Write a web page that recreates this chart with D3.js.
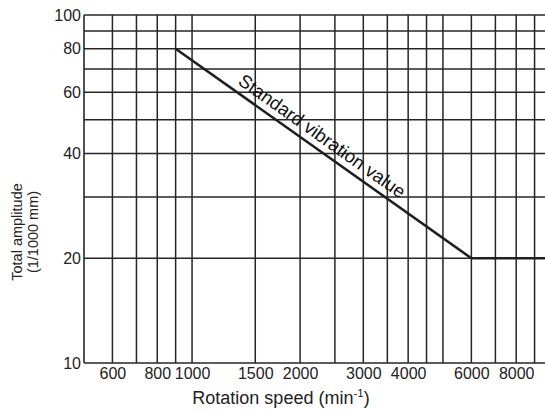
<!DOCTYPE html>
<html>
<head>
<meta charset="utf-8">
<script src="https://cdn.jsdelivr.net/npm/d3@7/dist/d3.min.js"></script>
<style>
  body { margin: 0; background: #fff; }
  svg { display: block; font-family: "Liberation Sans", Arial, sans-serif; }
</style>
</head>
<body>
<div id="chart"></div>
<script>
// Chart data
const xGrid = [600, 700, 800, 900, 1000, 1500, 2000, 2500, 3000, 3500, 4000, 4500, 5000, 6000, 7000, 8000, 9000];
const xTicks = [600, 800, 1000, 1500, 2000, 3000, 4000, 6000, 8000];
const yGrid = [10, 20, 30, 40, 50, 60, 70, 80, 90, 100];
const yTicks = [10, 20, 40, 60, 80, 100];
const standardSpeed = [900, 6000, 10000];
const standardAmp = [80, 20, 20];

const width = 545, height = 412;

const svg = d3.select("#chart").append("svg")
  .attr("width", width)
  .attr("height", height);

// log-log scales, right edge of the chart is cut off by the picture
const x = d3.scaleLog().domain([500, 10000]).range([84, 551]);
const y = d3.scaleLog().domain([10, 100]).range([363, 15]);

const gridColor = "#262626";

// vertical grid lines
svg.append("g")
  .selectAll("line")
  .data(xGrid)
  .join("line")
  .attr("x1", d => x(d)).attr("x2", d => x(d))
  .attr("y1", y(100)).attr("y2", y(10))
  .attr("stroke", gridColor)
  .attr("stroke-width", 1.5);

// horizontal grid lines
svg.append("g")
  .selectAll("line")
  .data(yGrid)
  .join("line")
  .attr("x1", x(500)).attr("x2", width)
  .attr("y1", d => y(d)).attr("y2", d => y(d))
  .attr("stroke", gridColor)
  .attr("stroke-width", 1.5);

// left border
svg.append("line")
  .attr("x1", x(500)).attr("x2", x(500))
  .attr("y1", y(100)).attr("y2", y(10))
  .attr("stroke", gridColor)
  .attr("stroke-width", 1.6);

// x axis labels
const xAxis = svg.append("g")
  .attr("transform", `translate(0,${y(10)})`)
  .call(d3.axisBottom(x).tickValues(xTicks).tickSize(0).tickPadding(5).tickFormat(d3.format("d")));
xAxis.select(".domain").remove();
xAxis.selectAll("text")
  .attr("fill", "#222")
  .style("font-size", "16px")
  .attr("dy", "0.71em");

// y axis labels
const yAxis = svg.append("g")
  .attr("transform", `translate(${x(500)},0)`)
  .call(d3.axisLeft(y).tickValues(yTicks).tickSize(0).tickPadding(3).tickFormat(d3.format("d")));
yAxis.select(".domain").remove();
yAxis.selectAll("text")
  .attr("fill", "#222")
  .style("font-size", "16px");

// x axis title
const xTitle = svg.append("text")
  .attr("x", 281)
  .attr("y", 404)
  .attr("text-anchor", "middle")
  .attr("fill", "#222")
  .style("font-size", "18px");
xTitle.append("tspan").text("Rotation speed (min");
xTitle.append("tspan").attr("dy", "-7").style("font-size", "11.5px").text("-1");
xTitle.append("tspan").attr("dy", "7").text(")");

// y axis title (two lines)
const yTitle = svg.append("text")
  .attr("transform", "translate(22,232) rotate(-90)")
  .attr("text-anchor", "middle")
  .attr("fill", "#222")
  .style("font-size", "14.5px");
yTitle.append("tspan").attr("x", 0).attr("dy", 0).text("Total amplitude");
yTitle.append("tspan").attr("x", 0).attr("dy", "1.1em").text("(1/1000 mm)");

// standard vibration value line
const pts = standardSpeed.map((s, i) => [s, standardAmp[i]]);
svg.append("path")
  .datum(pts)
  .attr("fill", "none")
  .attr("stroke", "#1f1f1f")
  .attr("stroke-width", 2.6)
  .attr("d", d3.line().x(d => x(d[0])).y(d => y(d[1])));

// label along the sloped part
const angle = Math.atan2(y(standardAmp[1]) - y(standardAmp[0]), x(standardSpeed[1]) - x(standardSpeed[0])) * 180 / Math.PI;
const labelSpeed = 1300;
const t = Math.log(labelSpeed / standardSpeed[0]) / Math.log(standardSpeed[1] / standardSpeed[0]);
const lx = x(labelSpeed);
const ly = y(standardAmp[0]) + t * (y(standardAmp[1]) - y(standardAmp[0]));
svg.append("text")
  .attr("transform", `translate(${lx},${ly}) rotate(${angle}) translate(0,-7)`)
  .attr("fill", "#111")
  .style("font-size", "18.5px")
  .text("Standard vibration value");
</script>
</body>
</html>
